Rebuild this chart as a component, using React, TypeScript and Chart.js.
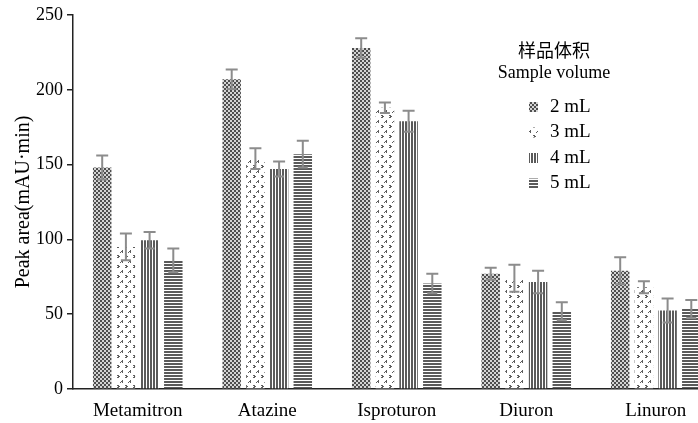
import React, { useEffect, useRef } from "react";
import { Chart, registerables } from "chart.js";

Chart.register(...registerables);

const categories = ["Metamitron", "Atazine", "Isproturon", "Diuron", "Linuron"];
const seriesLabels = ["2 mL", "3 mL", "4 mL", "5 mL"];
const v2 = [148, 207, 228, 77, 79];
const v3 = [95, 154, 188, 74, 68];
const v4 = [99.5, 147, 179, 71.5, 52.5];
const v5 = [86, 157, 70.5, 52, 53.5];
const e2 = [8, 6.5, 6.5, 4, 9];
const e3 = [9, 7, 3.5, 9, 4];
const e4 = [5.5, 5, 7, 7.5, 8];
const e5 = [8, 9, 6.5, 6, 6];
const yTicks = [0, 50, 100, 150, 200, 250];
const legendTitleZh = "样品体积";
const legendTitleEn = "Sample volume";
const yTitle = "Peak area(mAU·min)";

const SERIF = "'Liberation Serif', 'Times New Roman', serif";

function makeTile(w: number, h: number, bg: string, fg: string, pts: number[][]) {
  const c = document.createElement("canvas");
  c.width = w;
  c.height = h;
  const ctx = c.getContext("2d")!;
  ctx.fillStyle = bg;
  ctx.fillRect(0, 0, w, h);
  ctx.fillStyle = fg;
  for (const [x, y] of pts) ctx.fillRect(x, y, 1, 1);
  const tmp = document.createElement("canvas").getContext("2d")!;
  return tmp.createPattern(c, "repeat") as CanvasPattern;
}

function makePatterns() {
  // 2 mL: checker of small gray blocks
  const p2 = makeTile(4, 4, "#d4d4d4", "#4e4e4e", [
    [0, 0], [1, 0], [0, 1], [1, 1],
    [2, 2], [3, 2], [2, 3], [3, 3],
  ]);
  // 3 mL: small triangular marks on white
  const p3 = makeTile(8, 10, "#ffffff", "#5e5e5e", [
    [2, 0], [1, 1], [2, 1], [0, 2], [2, 2],
    [5, 5], [6, 5], [6, 6], [7, 6], [5, 7], [6, 7],
  ]);
  // 4 mL: vertical stripes
  const p4 = makeTile(3, 1, "#ffffff", "#5a5a5a", [[0, 0], [1, 0]]);
  // 5 mL: horizontal stripes
  const p5 = makeTile(1, 3, "#ffffff", "#5a5a5a", [[0, 0], [0, 1]]);
  return [p2, p3, p4, p5];
}

export default function App() {
  const ref = useRef<HTMLCanvasElement>(null);

  useEffect(() => {
    document.body.style.margin = "0";
    const patterns = makePatterns();
    const values = [v2, v3, v4, v5];
    const errors = [e2, e3, e4, e5];

    const errorBars = {
      id: "errorBars",
      afterDatasetsDraw(chart: any) {
        const ctx = chart.ctx;
        const y = chart.scales.y;
        ctx.save();
        ctx.strokeStyle = "#8c8c8c";
        ctx.lineWidth = 2;
        chart.data.datasets.forEach((ds: any, di: number) => {
          const meta = chart.getDatasetMeta(di);
          meta.data.forEach((bar: any, i: number) => {
            const v = values[di][i];
            const e = errors[di][i];
            const yt = y.getPixelForValue(v + e);
            const yb = y.getPixelForValue(v - e);
            const x = bar.x;
            ctx.beginPath();
            ctx.moveTo(x, yt);
            ctx.lineTo(x, yb);
            ctx.moveTo(x - 6, yt);
            ctx.lineTo(x + 6, yt);
            ctx.moveTo(x - 5, yb);
            ctx.lineTo(x + 5, yb);
            ctx.stroke();
          });
        });
        ctx.restore();
      },
    };

    const customLegend = {
      id: "customLegend",
      afterDraw(chart: any) {
        const ctx = chart.ctx;
        ctx.save();
        ctx.fillStyle = "#000";
        ctx.textBaseline = "middle";
        ctx.textAlign = "center";
        ctx.font = `18px 'Noto Sans CJK SC', sans-serif`;
        ctx.fillText(legendTitleZh, 554, 50);
        ctx.font = `18px ${SERIF}`;
        ctx.fillText(legendTitleEn, 554, 73);
        ctx.textAlign = "left";
        ctx.font = `19px ${SERIF}`;
        seriesLabels.forEach((lab, i) => {
          const cy = 107 + i * 25.5;
          ctx.fillStyle = patterns[i];
          ctx.fillRect(529, cy - 5, 9, 10);
          ctx.fillStyle = "#000";
          ctx.fillText(lab, 550, cy);
        });
        ctx.restore();
      },
    };

    const chart = new Chart(ref.current!, {
      type: "bar",
      data: {
        labels: categories,
        datasets: values.map((vals, i) => ({
          label: seriesLabels[i],
          data: vals,
          backgroundColor: patterns[i],
          borderWidth: 0,
          categoryPercentage: 0.732,
          barPercentage: 0.78,
        })),
      },
      options: {
        responsive: false,
        animation: false,
        devicePixelRatio: 1,
        layout: { padding: { top: 15, right: 9.5, left: 0, bottom: 0 } },
        plugins: {
          legend: { display: false },
          tooltip: { enabled: false },
        },
        scales: {
          x: {
            grid: { display: false },
            border: { display: true, color: "#222", width: 1.5 },
            ticks: { color: "#000", font: { family: SERIF, size: 19 }, padding: 3, maxRotation: 0 },
            afterFit: (s: any) => { s.height = 34; },
          },
          y: {
            min: 0,
            max: 250,
            afterBuildTicks: (s: any) => { s.ticks = yTicks.map((v) => ({ value: v })); },
            grid: { drawOnChartArea: false, drawTicks: true, tickLength: 6, color: "#222", lineWidth: 1.5 },
            border: { display: true, color: "#222", width: 1.5 },
            ticks: { color: "#000", font: { family: SERIF, size: 18 }, padding: 4 },
            title: {
              display: true,
              text: yTitle,
              color: "#000",
              font: { family: SERIF, size: 20 },
              padding: { top: 12, bottom: 0 },
            },
            afterFit: (s: any) => { s.width = 73; },
          },
        },
      },
      plugins: [errorBars, customLegend],
    });
    return () => chart.destroy();
  }, []);

  return (
    <div style={{ position: "fixed", left: 0, top: 0, width: 698, height: 423, overflow: "hidden", background: "#fff" }}>
      <canvas ref={ref} width={730} height={423} style={{ display: "block" }} />
    </div>
  );
}
